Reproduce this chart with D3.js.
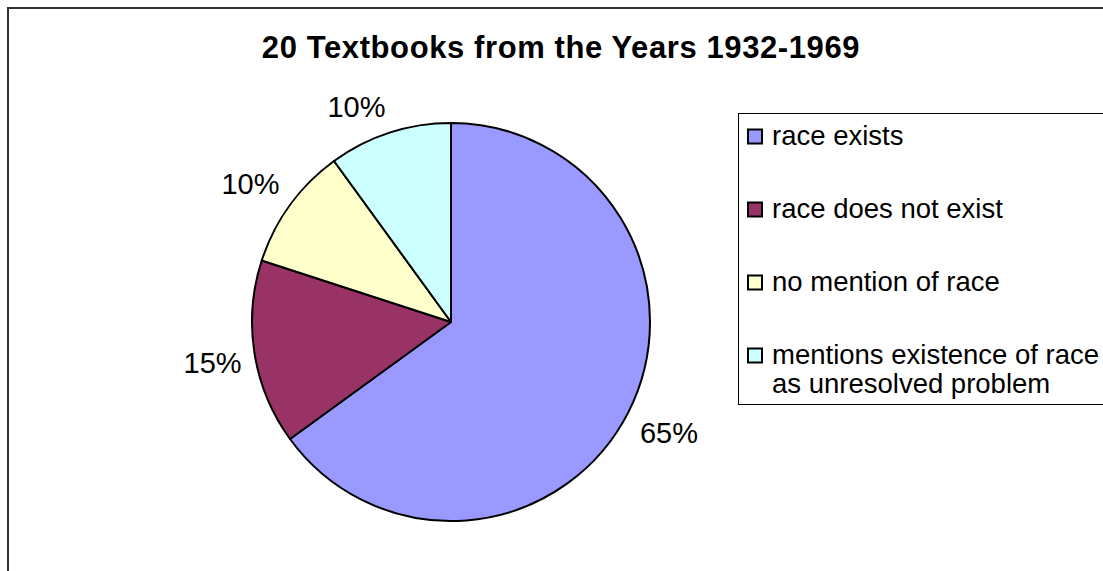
<!DOCTYPE html>
<html>
<head>
<meta charset="utf-8">
<script src="https://cdn.jsdelivr.net/npm/d3@7"></script>
<style>
  body { margin: 0; background: #fff; }
  text { font-family: "Liberation Sans", Arial, sans-serif; fill: #000; }
</style>
</head>
<body>
<div id="pie_chart"></div>
<script>
var vWidth = 1103;
var vHeight = 571;

// chart data
var categories = ["race exists", "race does not exist", "no mention of race", "mentions existence of race as unresolved problem"];
var legendLines = [["race exists"], ["race does not exist"], ["no mention of race"], ["mentions existence of race", "as unresolved problem"]];
var values = [65, 15, 10, 10];
var colors = ["#9999FF", "#993366", "#FFFFCC", "#CCFFFF"];
var title = "20 Textbooks from the Years 1932-1969";

var svg = d3.select("#pie_chart")
    .append("svg")
    .attr("width", vWidth)
    .attr("height", vHeight);

// chart area border (runs off the right and bottom edges)
svg.append("rect")
    .attr("x", 8).attr("y", 8)
    .attr("width", vWidth + 20).attr("height", vHeight + 20)
    .attr("fill", "#fff")
    .attr("stroke", "#333")
    .attr("stroke-width", 2);

svg.append("text")
    .attr("x", 561)
    .attr("y", 58)
    .attr("text-anchor", "middle")
    .attr("font-size", 31)
    .attr("font-weight", "bold")
    .attr("letter-spacing", 0.6)
    .text(title);

// pie
var cx = 451, cy = 322, radius = 199;
var total = d3.sum(values);
var pie = d3.pie().sort(null).value(function (d) { return d; });
var arcs = pie(values);
var arc = d3.arc().innerRadius(0).outerRadius(radius);
var anchorArc = d3.arc().innerRadius(212).outerRadius(212);

var g = svg.append("g").attr("transform", "translate(" + cx + "," + cy + ")");

g.selectAll("path")
    .data(arcs)
    .enter().append("path")
    .attr("d", arc)
    .attr("fill", function (d, i) { return colors[i]; })
    .attr("stroke", "#000")
    .attr("stroke-width", 2)
    .attr("stroke-linejoin", "round");

// labels sit outside the pie, pushed out so the box's inner corner touches the anchor
var labels = g.selectAll("text.pct")
    .data(arcs)
    .enter().append("text")
    .attr("class", "pct")
    .attr("text-anchor", "middle")
    .attr("font-size", 29)
    .text(function (d) { return d3.format(".0%")(d.value / total); });

labels.each(function (d) {
    var t = d3.select(this);
    var w = this.getComputedTextLength();
    var h = 28;
    var p = anchorArc.centroid(d);
    var mid = (d.startAngle + d.endAngle) / 2;
    var ux = Math.max(-1, Math.min(1, Math.sin(mid) * 3.3));
    var uy = Math.max(-1, Math.min(1, -Math.cos(mid) * 3.3));
    t.attr("x", p[0] + ux * w / 2)
     .attr("y", p[1] + uy * h / 2 + 10.5);
});

// legend
var legend = svg.append("g").attr("transform", "translate(738,113)");
legend.append("rect")
    .attr("x", 0.5).attr("y", 0.5)
    .attr("width", 400).attr("height", 291)
    .attr("fill", "#fff")
    .attr("stroke", "#000")
    .attr("stroke-width", 1);

var rowY = d3.scalePoint().domain(categories).range([16, 235]);

var rows = legend.selectAll("g.row")
    .data(categories)
    .enter().append("g")
    .attr("class", "row")
    .attr("transform", function (d) { return "translate(0," + rowY(d) + ")"; });

rows.append("rect")
    .attr("x", 10).attr("y", 0.5)
    .attr("width", 14).attr("height", 14)
    .attr("fill", function (d, i) { return colors[i]; })
    .attr("stroke", "#000")
    .attr("stroke-width", 2);

rows.each(function (d, i) {
    var t = d3.select(this).append("text")
        .attr("x", 34)
        .attr("y", 16)
        .attr("font-size", 27.5);
    legendLines[i].forEach(function (line, j) {
        t.append("tspan")
            .attr("x", 34)
            .attr("dy", j === 0 ? 0 : 29)
            .text(line);
    });
});
</script>
</body>
</html>
